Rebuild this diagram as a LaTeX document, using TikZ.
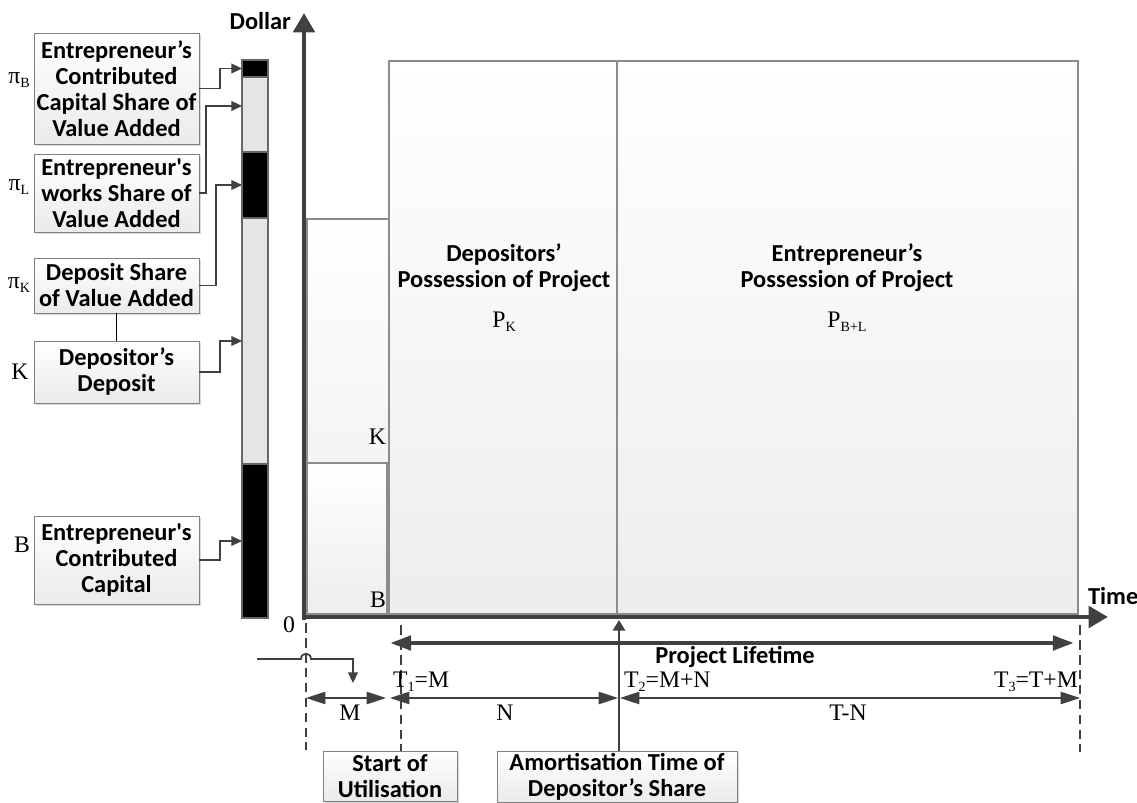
\documentclass[tikz,border=0pt]{standalone}
\usepackage{fontspec}
\setmainfont{Liberation Serif}
\newfontfamily\calib{Carlito}
\usetikzlibrary{arrows.meta,shadows,positioning}
\newcommand\lsub[1]{\raisebox{-0.4ex}{\fontsize{8}{8}\selectfont #1}}

\begin{document}
\begin{tikzpicture}[x=0.02cm,y=-0.02cm,
	every node/.style={font=\fontsize{13.5}{15}\selectfont,inner sep=1pt},
	lbl/.style={font=\calib\bfseries\fontsize{13.9}{14.8}\selectfont,align=center},
	box/.style={lbl,draw=black!50,top color=white,bottom color=black!8,minimum width=3.3cm,
		drop shadow={shadow xshift=1.2pt,shadow yshift=-1.2pt,fill=black!30}},
	seg/.style={draw=black!60,line width=0.6pt,minimum width=0.52cm,inner sep=0pt,outer sep=0pt},
	area/.style={draw=black!45,line width=0.6pt,top color=white,bottom color=black!7},
	conn/.style={draw=black!75,line width=1pt,-{Triangle[length=6pt,width=5.5pt]}},
	axis/.style={draw=black!75,line width=2.8pt,-{Triangle[length=11pt,width=12pt]}},
	life/.style={draw=black!75,line width=2.6pt,{Triangle[length=12pt,width=8pt]}-{Triangle[length=12pt,width=8pt]}},
	dim/.style={draw=black!75,line width=0.8pt,{Triangle[length=11pt,width=7pt]}-{Triangle[length=11pt,width=7pt]}},
	guide/.style={draw=black!75,line width=1pt,dash pattern=on 5.5pt off 3pt}]
	\useasboundingbox (0,0) rectangle (1137,803);
	\clip (0,0) rectangle (1137,803);
	%
	\draw[area] (307,219) rectangle (389,614);
	\draw[area] (307,463) rectangle (387,614);
	\draw[area] (389,61) rectangle (617,614);
	\draw[area] (617,61) rectangle (1078,614);
	\node[anchor=east] (kl) at (388,437) {K};
	\node[anchor=east] (bl) at (388,600) {B};
	\node[lbl] (dep) at (504,268) {Depositors’\\Possession of Project};
	\node (pk) at (504,322) {P\lsub{K}};
	\node[lbl] (ent) at (847,268) {Entrepreneur’s\\Possession of Project};
	\node (pbl) at (847,322) {P\lsub{B+L}};
	%
	\coordinate (o) at (304,617);
	\coordinate (ytop) at (304,13);
	\coordinate (xend) at (1108,617);
	\draw[axis] (304,620) -- (ytop);
	\draw[axis] (302,617) -- (xend);
	\node[lbl,anchor=east] (dollar) at (293,21) {Dollar};
	\node[lbl,anchor=west] (time) at (1086,596) {Time};
	\node (zero) at (289,625) {0};
	%
	\node[seg,fill=black,minimum height=0.34cm] (s1) at (255,68.5) {};
	\node[seg,fill=black!10,minimum height=1.5cm] (s2) at (255,114.5) {};
	\node[seg,fill=black,minimum height=1.32cm] (s3) at (255,185) {};
	\node[seg,fill=black!10,minimum height=4.92cm] (s4) at (255,341) {};
	\node[seg,fill=black,minimum height=3.08cm] (s5) at (255,541) {};
	%
	\node[box,minimum height=2.22cm] (b1) at (116.5,88.5) {Entrepreneur’s\\Contributed\\Capital Share of\\Value Added};
	\node[box,minimum height=1.56cm] (b2) at (116.5,193) {Entrepreneur\textquotesingle s\\works Share of\\Value Added};
	\node[box,minimum height=1.1cm] (b3) at (116.5,285.5) {Deposit Share\\of Value Added};
	\node[box,minimum height=1.24cm] (b4) at (116.5,372) {Depositor’s\\Deposit};
	\node[box,minimum height=1.76cm] (b5) at (116.5,560) {Entrepreneur\textquotesingle s\\Contributed\\Capital};
	\node (pib) at (19,80) {π\lsub{B}};
	\node (pil) at (19,187) {π\lsub{L}};
	\node (pik) at (19,285) {π\lsub{K}};
	\node (kk) at (20,372) {K};
	\node (bb) at (22,545) {B};
	%
	\draw[conn] (b1.east) -- ++(21,0) |- (s1.west);
	\draw[conn] (b2.east) -- ++(7,0) |- ([yshift=0.17cm]s2.west);
	\draw[conn] (b3.east) -- ++(17,0) |- (s3.west);
	\draw[conn] (b4.east) -- ++(21,0) |- (s4.west);
	\draw[conn] (b5.east) -- ++(21,0) |- (s5.west);
	\draw[black,line width=0.6pt] (b3.south) -- (b4.north);
	%
	\node[box,anchor=north,minimum width=2.68cm,minimum height=1cm] (su) at (390,751) {Start of\\Utilisation};
	\node[box,anchor=north,minimum width=4.8cm,minimum height=1cm] (am) at (617,751) {Amortisation Time of\\Depositor’s Share};
	\coordinate (g1) at (401,625);
	\draw[guide] (306,623) -- (306,750);
	\draw[guide] (g1) -- (g1 |- su.north);
	\draw[guide] (1080,625) -- (1080,752);
	\draw[draw=black!75,line width=1pt,-{Triangle[length=6pt,width=7pt]}] ([xshift=0.04cm]am.north) -- (619,620);
	%
	\draw[life] (390,643) -- (1074,643);
	\node[lbl] (plt) at (735,657) {Project Lifetime};
	\draw[conn] (257,659) -- (301,659) .. controls (301,652) and (311,652) .. (311,659) -- (353,659) -- (353,683);
	\draw[dim] (306,698) -- (386,698);
	\draw[dim] (390,698) -- (618,698);
	\draw[dim] (620,698) -- (1080,698);
	\node (m) at (350,713) {M};
	\node (n) at (505,713) {N};
	\node (tn) at (848,713) {T-N};
	\node[anchor=west] (t1) at (391,682) {T\lsub{1}=M};
	\node[anchor=west] (t2) at (622,682) {T\lsub{2}=M+N};
	\node[anchor=east] (t3) at (1080,682) {T\lsub{3}=T+M};
\end{tikzpicture}
\end{document}
